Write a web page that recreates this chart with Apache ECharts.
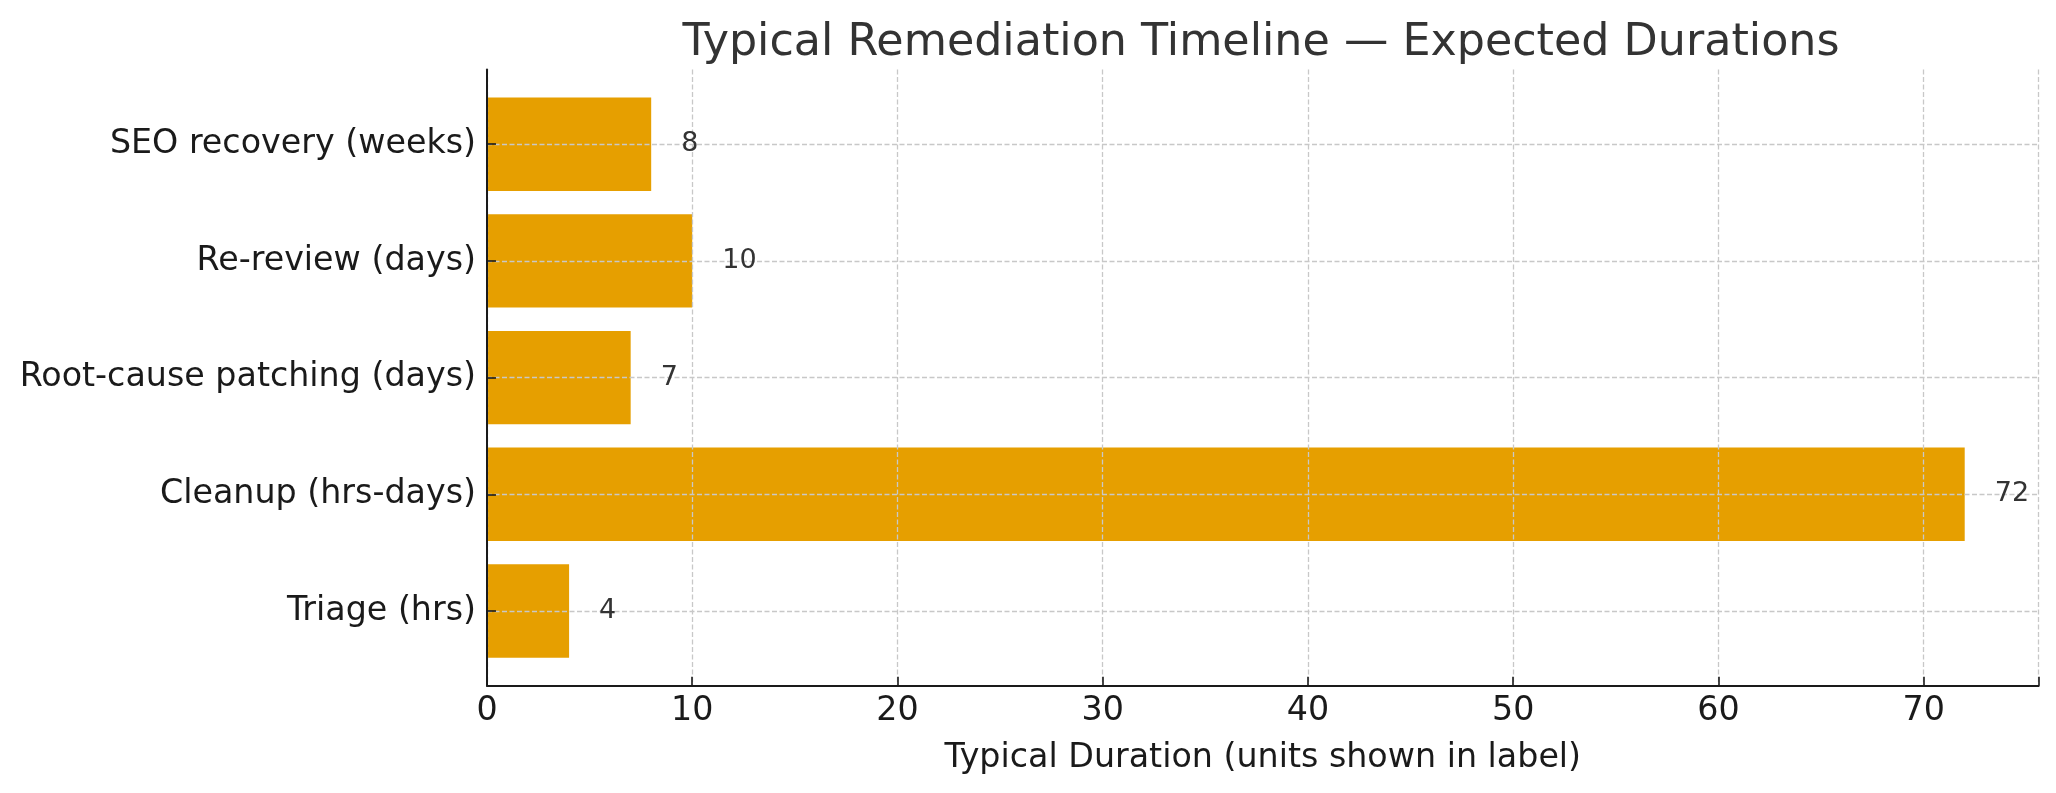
<!DOCTYPE html>
<html>
<head>
<meta charset="utf-8">
<script src="https://cdn.jsdelivr.net/npm/echarts@6/dist/echarts.min.js"></script>
<style>html,body{margin:0;padding:0;background:#fff}#c{width:2056px;height:793px}</style>
</head>
<body>
<div id="c"></div>
<script>
const categories = ["Triage (hrs)", "Cleanup (hrs-days)", "Root-cause patching (days)", "Re-review (days)", "SEO recovery (weeks)"];
const durations = [4, 72, 7, 10, 8];
const xTicks = [0, 10, 20, 30, 40, 50, 60, 70];
const titleText = "Typical Remediation Timeline \u2014 Expected Durations";
const xAxisName = "Typical Duration (units shown in label)";

const FONT = "DejaVu Sans";
const X_MAX = 75.6;
const chart = echarts.init(document.getElementById('c'), null, {renderer: 'canvas'});
const gridLine = {show: true, lineStyle: {color: '#c8c8c8', width: 1.3, type: [5, 2.5]}};

chart.setOption({
  backgroundColor: '#ffffff',
  animation: false,
  title: {
    text: titleText, left: 1256, top: 16, textAlign: 'center',
    textStyle: {fontFamily: FONT, fontSize: 44.4, fontWeight: 'normal', color: '#333333'}
  },
  grid: [
    {left: 487, right: 17.4, top: 144.2, bottom: 182, containLabel: false},
    {left: 487, right: 17.4, top: 69.5, bottom: 107.2, containLabel: false}
  ],
  xAxis: [
    {gridIndex: 0, type: 'value', min: 0, max: X_MAX, show: false},
    {gridIndex: 1, type: 'value', min: 0, max: X_MAX, interval: 10, z: 3,
     axisLine: {show: true, lineStyle: {color: '#1a1a1a', width: 2}},
     axisTick: {show: true, inside: true, length: 9, lineStyle: {color: '#1a1a1a', width: 1.6}},
     axisLabel: {show: true, fontFamily: FONT, fontSize: 33.3, color: '#1a1a1a', margin: 9,
                 customValues: xTicks, formatter: v => String(v)},
     splitLine: gridLine,
     name: xAxisName, nameLocation: 'middle', nameGap: 56,
     nameTextStyle: {fontFamily: FONT, fontSize: 33.3, color: '#1a1a1a'}}
  ],
  yAxis: [
    {gridIndex: 0, type: 'category', data: categories, boundaryGap: false, z: 3,
     axisLine: {show: false},
     axisTick: {show: true, inside: true, length: 9, lineStyle: {color: '#1a1a1a', width: 1.6}},
     axisLabel: {fontFamily: FONT, fontSize: 33.3, color: '#1a1a1a', margin: 11, padding: [5, 0, 0, 0]},
     splitLine: gridLine},
    {gridIndex: 1, type: 'value', min: 0, max: 1, z: 3,
     axisLine: {show: true, lineStyle: {color: '#1a1a1a', width: 2}},
     axisTick: {show: false}, axisLabel: {show: false}, splitLine: {show: false}}
  ],
  series: [
    {type: 'bar', xAxisIndex: 0, yAxisIndex: 0, data: durations, clip: false,
     barCategoryGap: '20%', z: 2,
     itemStyle: {color: '#E69F00'}, label: {show: false}},
    {type: 'bar', xAxisIndex: 0, yAxisIndex: 0, data: durations, clip: false,
     barCategoryGap: '20%', barGap: '-100%', z: 5, silent: true,
     itemStyle: {color: 'rgba(0,0,0,0)'},
     label: {show: true, position: 'right', distance: 30, padding: [4, 0, 0, 0],
             fontFamily: FONT, fontSize: 27, color: '#333333'}}
  ]
});
</script>
</body>
</html>
